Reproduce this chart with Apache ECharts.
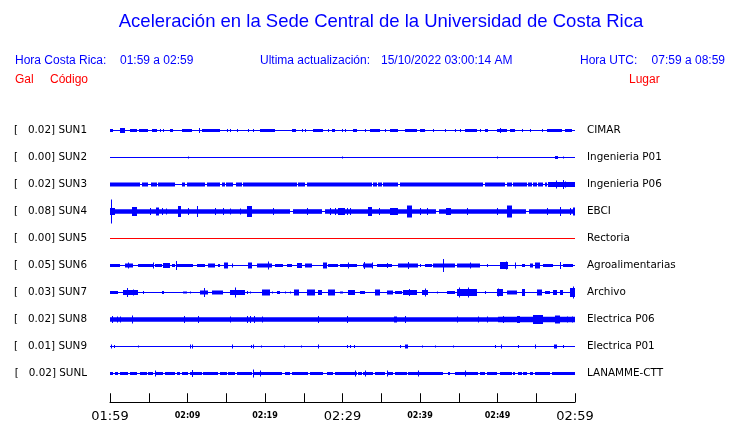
<!DOCTYPE html>
<html>
<head>
<meta charset="utf-8">
<script src="https://cdn.jsdelivr.net/npm/echarts@6/dist/echarts.min.js"></script>
<style>html,body{margin:0;padding:0;background:#fff}#c{width:740px;height:423px}</style>
</head>
<body>
<div id="c"></div>
<script>
// ---------- DATA ----------
const codes = ['SUN1','SUN2','SUN3','SUN4','SUN5','SUN6','SUN7','SUN8','SUN9','SUNL'];
const galMax = ['0.02','0.00','0.02','0.08','0.00','0.05','0.03','0.02','0.01','0.02'];
const places = ['CIMAR','Ingenieria P01','Ingenieria P06','EBCI','Rectoria','Agroalimentarias','Archivo','Electrica P06','Electrica P01','LANAMME-CTT'];
const tickLabels = ['01:59','02:09','02:19','02:29','02:39','02:49','02:59'];
const titleText = 'Aceleración en la Sede Central de la Universidad de Costa Rica';
const localTime = '01:59 a 02:59';
const utcTime = '07:59 a 08:59';
const updated = '15/10/2022 03:00:14 AM';

// each trace: [startMinute, endMinute, relative half-amplitude]
const sun1 = [[0,60,0.5],[0,0.4,1.5],[1.3,1.9,2.5],[2.6,3.5,1.5],[3.7,4.9,1.5],[5.4,6.1,1.5],[6.45,6.45,1.5],[6.8,6.8,1.5],[7.7,8.1,1.5],[9.3,10.6,1.5],[11.5,11.5,2.5],[11.9,14.2,1.5],[15.1,15.1,1.5],[15.5,15.5,1.5],[16.4,16.4,1.5],[17.8,17.8,1.5],[18.4,18.4,1.5],[19.4,21.3,1.5],[23.5,24.0,1.5],[24.8,24.8,1.5],[25.2,25.2,1.5],[26.2,27.5,1.5],[28.1,28.1,1.5],[28.6,29.0,1.5],[29.9,29.9,1.5],[30.3,30.3,1.5],[31.3,31.9,1.5],[32.9,32.9,1.5],[33.5,34.8,1.5],[35.5,35.5,1.5],[36.1,37.2,1.5],[38.1,39.6,1.5],[40.0,40.6,1.5],[41.7,41.7,1.5],[43.2,43.2,1.5],[44.5,44.5,1.5],[45.2,45.2,1.5],[45.8,47.4,1.5],[47.7,47.7,1.5],[48.4,48.8,1.5],[49.9,51.2,1.5],[50.3,50.3,2.5],[51.6,52.2,1.5],[53.1,53.1,1.5],[54.2,54.2,1.5],[55.7,55.7,1.5],[56.4,58.3,1.5],[58.7,59.6,1.5]];
const sun2 = [[0,60,0.5],[10.1,10.1,1],[29.9,30.1,1],[49.9,49.9,1],[57.4,57.8,1.5],[58.4,58.4,1]];
const sun3 = [[0,60,0.5],[0,3.9,2],[4.1,4.9,2],[5.3,6.1,2],[6.2,8.4,2],[9.3,9.7,2],[9.9,12.3,2],[12.5,14.2,2],[14.4,14.8,2],[15.0,15.9,2],[16.3,17.0,2],[17.2,24.1,2],[24.3,25.2,2],[25.4,30.3,2],[30.3,33.8,2],[33.9,34.4,2],[34.6,35.1,2],[35.2,37.2,2],[37.4,48.1,2],[48.4,51.0,2],[51.2,51.9,2],[52.0,53.8,2],[53.9,54.4,2],[54.6,55.1,2],[55.2,55.9,2],[56.1,56.4,2],[56.5,60,2.5],[57.5,57.5,4],[58.4,58.4,4.5],[58.7,58.7,3]];
const sun4 = [[0,60,0.5],[0,23.2,2.3],[23.6,27.3,2.3],[27.8,42.1,2.3],[42.4,53.7,2.3],[54.0,60,2.3],[0,0.6,3.5],[0.1,0.1,12],[2.8,3.5,4.5],[5.2,5.2,3.5],[5.9,6.3,4],[6.7,6.7,3.5],[7.2,7.2,3],[8.8,9.2,5.5],[10.1,10.1,3.5],[11.2,11.2,5.5],[13.5,13.5,3.5],[14.6,14.6,3.5],[15.5,15.5,3],[16.8,16.8,3],[17.7,18.3,5.5],[21.0,21.0,3.5],[25.4,25.4,3.5],[28.4,28.4,3.5],[29.0,29.0,3.5],[29.4,30.3,3.5],[30.6,30.6,3.5],[31.0,31.0,3.5],[33.3,33.8,4.5],[34.7,34.7,3.5],[36.1,37.2,3.5],[38.3,39.0,6],[40.0,40.0,3.5],[40.9,40.9,3.5],[43.3,44.0,3.5],[46.1,46.1,3.5],[49.9,49.9,3.5],[51.2,51.9,6],[56.4,56.4,3.5],[58.1,58.1,4.5],[59.3,59.3,3.5],[59.7,60,4]];
const sun5 = [[0,60,0.5]];
const sun6 = [[0,60,0.5],[0,1.3,1.5],[1.9,3.0,2],[2.3,2.3,3],[3.6,5.5,1.5],[5.5,5.5,3],[5.8,6.7,1.5],[6.8,7.7,2.5],[8.0,8.4,1.5],[8.5,8.5,4.5],[8.6,10.7,1.5],[11.2,12.3,1.5],[12.6,13.5,2],[13.9,14.2,1.5],[14.7,15.2,3],[15.7,15.7,2],[17.8,18.3,3],[19.0,20.9,2],[20.4,20.4,4],[21.3,22.3,1.5],[22.8,23.5,1.5],[24.1,24.8,2.5],[25.2,26.1,2],[27.5,28.0,3],[28.1,29.4,1.5],[29.7,31.9,1.5],[30.7,30.7,3],[32.6,33.9,2],[32.8,32.8,3.5],[33.8,33.8,3],[34.4,36.4,1.5],[35.7,35.7,2.5],[37.2,39.7,2],[38.4,38.4,3.5],[40.0,40.0,1.5],[40.6,41.5,1.5],[41.7,44.5,2],[43.0,43.0,6.5],[44.8,47.7,2],[46.4,46.4,3],[48.6,48.6,1.5],[50.3,51.3,3.5],[51.1,51.1,4],[52.2,52.2,3],[53.1,53.5,1.5],[54.2,54.6,2],[54.8,55.5,3],[55.9,57.1,1.5],[58.1,58.1,3.5],[58.4,59.7,1.5]];
const sun7 = [[0,60,0.5],[0,1.0,1.5],[1.7,3.6,2.5],[2.2,2.2,4.5],[3.0,3.0,3],[4.3,4.3,1.5],[6.7,7.0,1.5],[9.4,9.9,1],[10.3,10.3,1],[11.6,12.6,2],[12.1,12.1,4.5],[13.2,14.6,2],[15.5,17.4,2.5],[16.1,16.1,5],[17.7,17.7,1.5],[18.1,18.1,1],[19.6,20.6,3],[20.9,20.9,1],[21.5,21.9,1.5],[22.6,22.6,1],[23.2,23.2,1],[23.7,24.4,3],[25.4,26.4,3],[26.8,27.3,2.5],[28.1,29.0,3],[29.7,30.1,1],[30.7,31.6,2.5],[32.3,32.9,1.5],[34.2,34.8,3],[35.7,36.5,2],[36.8,37.7,1.5],[37.8,39.6,2.5],[38.6,38.6,3.5],[40.2,41.0,2.5],[40.6,40.6,4],[42.2,42.2,1],[43.5,44.5,1.5],[44.8,47.3,3.5],[45.0,45.0,5],[46.2,46.2,5],[48.4,48.4,1.5],[49.9,50.7,3.5],[50.1,50.1,4],[51.2,52.5,2],[53.1,53.5,3.5],[55.1,55.7,3],[56.1,56.8,1.5],[57.1,57.7,2.5],[58.1,58.4,2.5],[59.3,60,4.5],[59.7,59.7,6]];
const sun8 = [[0,60,0.5],[0,50,2.3],[50,60,2.7],[0.3,0.3,3.5],[0.9,0.9,3],[1.3,1.3,3],[2.8,2.8,4],[9.5,9.5,3.5],[11.4,11.4,3.5],[15.5,15.5,3],[17.7,17.7,3.5],[18.1,18.1,3.5],[18.6,18.6,3.5],[19.6,19.6,3],[26.8,26.8,3.5],[30.6,30.6,3.5],[36.6,37.0,3],[38.1,38.1,3.5],[44.8,44.8,3],[47.5,47.5,3],[48.6,48.6,3],[50.7,50.7,3.5],[52.5,52.9,3.5],[54.6,55.9,4.5],[57.4,58.1,4],[59.0,59.0,3],[59.6,59.6,3]];
const sun9 = [[0,60,0.5],[0.1,0.1,2],[0.5,0.5,1.5],[3.6,3.6,1],[10.3,10.3,2],[10.6,10.6,2],[15.7,15.7,2],[18.2,18.2,1.5],[18.4,18.4,2],[19.5,19.5,1],[22.4,22.4,1],[24.6,24.6,1],[26.8,26.8,2],[30.6,30.6,1.5],[31.0,31.0,1.5],[31.5,31.5,1.5],[37.4,37.4,1.5],[38.1,38.4,2],[40.2,40.2,1],[41.9,41.9,1],[44.2,44.2,1],[49.7,49.7,1.5],[50.4,50.4,2],[52.6,52.6,1.5],[54.8,54.8,2],[57.3,57.7,2],[58.4,58.4,1.5]];
const sunL = [[0,60,0.5],[0,0.4,1.5],[0.6,1.0,1.5],[1.3,2.3,1.5],[2.6,3.5,1.5],[3.9,4.8,1.5],[4.9,5.5,1.5],[5.8,6.8,1.5],[7.1,8.4,1.5],[8.6,9.0,1.5],[9.3,10.1,1.5],[10.3,11.9,1.5],[12.0,13.9,1.5],[14.2,15.1,1.5],[15.2,16.1,1.5],[16.4,18.3,1.5],[18.4,22.2,1.5],[22.6,23.2,1.5],[23.5,25.5,1.5],[25.8,27.5,1.5],[28.0,28.8,1.5],[29.0,30.3,1.5],[30.3,31.9,1.5],[32.0,32.5,1.5],[32.6,33.9,1.5],[34.2,35.5,1.5],[35.7,36.5,1.5],[36.8,38.3,1.5],[38.4,43.0,1.5],[43.6,43.9,1.5],[44.5,47.5,1.5],[47.7,48.4,1.5],[48.6,49.9,1.5],[50.3,51.9,1.5],[52.0,52.2,1.5],[52.6,53.1,1.5],[53.3,53.8,1.5],[54.2,54.6,1.5],[54.8,56.8,1.5],[57.0,60,1.5],[5.8,5.8,3],[10.6,10.6,3.5],[18.4,18.4,4],[19.4,19.4,3],[31.6,31.6,3],[32.9,32.9,3],[35.7,35.7,3],[39.7,39.7,3],[45.8,45.8,3]];
const traces = [sun1, sun2, sun3, sun4, sun5, sun6, sun7, sun8, sun9, sunL];

// ---------- STYLE ----------
const BLUE = '#0000ff', RED = '#ff0000';
const traceColors = [BLUE,BLUE,BLUE,BLUE,RED,BLUE,BLUE,BLUE,BLUE,BLUE];
const LANE_AMP = 27; // relative amplitude units spanning one lane
const SANS = '"Liberation Sans", Arial, sans-serif';
const DEJAVU = '"DejaVu Sans", sans-serif';

const chart = echarts.init(document.getElementById('c'), null, {renderer: 'canvas'});

function traceSeries(lane) {
  const color = traceColors[lane];
  return {
    type: 'custom',
    xAxisIndex: 0, yAxisIndex: 0,
    silent: true,
    clip: false,
    data: traces[lane].map(s => [s[0], s[1], s[2], lane]),
    encode: {x: [0, 1], y: 3},
    renderItem: function (params, api) {
      const t0 = api.value(0), t1 = api.value(1), a = api.value(2), ln = api.value(3);
      const p0 = api.coord([t0, ln]);
      const p1 = api.coord([t1, ln]);
      const laneH = api.size([0, 1])[1];
      const half = a / LANE_AMP * laneH;
      const x = Math.round(p0[0]);
      const w = Math.max(1, Math.round(p1[0]) - x);
      return {type: 'rect', shape: {x: x, y: p0[1] - half, width: w, height: half * 2},
              style: {fill: color}};
    }
  };
}

const option = {
  animation: false,
  backgroundColor: '#fff',
  grid: [
    {left: 110, right: 165, top: 117, height: 270},
    {left: 110, right: 165, top: 400, height: 9}
  ],
  xAxis: [
    {gridIndex: 0, type: 'value', min: 0, max: 60, show: false},
    {gridIndex: 1, type: 'value', min: 0, max: 60, interval: 5,
     axisLine: {show: true, lineStyle: {color: '#000', width: 1}},
     axisTick: {show: true, inside: true, length: 9, lineStyle: {color: '#000', width: 1}},
     splitLine: {show: false},
     axisLabel: {
       margin: 5, showMinLabel: true, showMaxLabel: true,
       formatter: function (v) {
         if (v % 10 !== 0) return '';
         const s = tickLabels[v / 10];
         return v % 30 === 0 ? '{big|' + s + '}' : '{small|' + s + '}';
       },
       rich: {
         big: {fontFamily: DEJAVU, fontSize: 13, color: '#000', padding: [3, 0, 0, 0]},
         small: {fontFamily: DEJAVU, fontSize: 8, fontWeight: 'bold', color: '#000', padding: [5, 0, 0, 0]}
       }
     }}
  ],
  yAxis: [
    {gridIndex: 0, type: 'category', data: codes, inverse: true,
     axisLine: {show: false}, axisTick: {show: false}, splitLine: {show: false},
     axisLabel: {interval: 0, margin: 23, color: '#000',
       formatter: (v, i) => '{br|[}{t|   ' + galMax[i] + '] ' + v + '}',
       rich: {
         br: {fontFamily: DEJAVU, fontSize: 10.4, color: '#000'},
         t: {fontFamily: DEJAVU, fontSize: 10.4, color: '#000'}
       }}},
    {gridIndex: 0, type: 'category', data: places, inverse: true, position: 'right',
     axisLine: {show: false}, axisTick: {show: false}, splitLine: {show: false},
     axisLabel: {interval: 0, margin: 12, fontFamily: DEJAVU, fontSize: 10.4, color: '#000', align: 'left'}},
    {gridIndex: 1, type: 'value', min: 0, max: 1, show: false}
  ],
  graphic: [
    {type: 'text', x: 381, y: 22, style: {text: titleText, fill: BLUE, font: '18.5px ' + SANS, textAlign: 'center', textVerticalAlign: 'middle'}},
    {type: 'text', x: 15, y: 61, style: {text: 'Hora Costa Rica:', fill: BLUE, font: '12px ' + SANS, textVerticalAlign: 'middle'}},
    {type: 'text', x: 120, y: 61, style: {text: localTime, fill: BLUE, font: '12px ' + SANS, textVerticalAlign: 'middle'}},
    {type: 'text', x: 260, y: 61, style: {text: 'Ultima actualización:', fill: BLUE, font: '12px ' + SANS, textVerticalAlign: 'middle'}},
    {type: 'text', x: 381, y: 61, style: {text: updated, fill: BLUE, font: '12px ' + SANS, textVerticalAlign: 'middle'}},
    {type: 'text', x: 580, y: 61, style: {text: 'Hora UTC:', fill: BLUE, font: '12px ' + SANS, textVerticalAlign: 'middle'}},
    {type: 'text', x: 725, y: 61, style: {text: utcTime, fill: BLUE, font: '12px ' + SANS, textAlign: 'right', textVerticalAlign: 'middle'}},
    {type: 'text', x: 15, y: 80, style: {text: 'Gal', fill: RED, font: '12px ' + SANS, textVerticalAlign: 'middle'}},
    {type: 'text', x: 50, y: 80, style: {text: 'Código', fill: RED, font: '12px ' + SANS, textVerticalAlign: 'middle'}},
    {type: 'text', x: 629, y: 80, style: {text: 'Lugar', fill: RED, font: '12px ' + SANS, textVerticalAlign: 'middle'}}
  ],
  series: codes.map((c, i) => traceSeries(i))
};
chart.setOption(option);
</script>
</body>
</html>
